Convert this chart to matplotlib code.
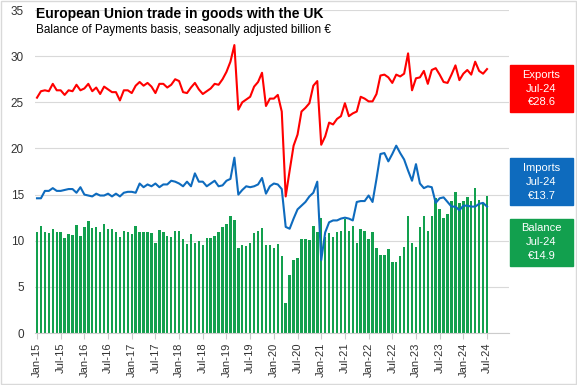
import numpy as np
import pandas as pd
import matplotlib.pyplot as plt
from matplotlib.patches import Rectangle

# monthly, Jan-15 .. Jul-24 (billion EUR)
exports = [25.5, 26.2, 26.3, 26.2, 27.0, 26.3, 26.3, 25.8, 26.3, 26.2, 26.9, 26.3,
           26.5, 27.0, 26.2, 26.6, 25.9, 26.7, 26.4, 26.1, 26.1, 25.2, 26.3, 26.3,
           26.0, 26.8, 27.2, 26.8, 27.1, 26.7, 26.0, 27.0, 27.0, 26.6, 26.9, 27.5,
           27.3, 26.1, 26.0, 26.6, 27.1, 26.4, 25.9, 26.2, 26.5, 27.0, 26.9, 27.5,
           28.3, 29.4, 31.2, 24.2, 25.0, 25.3, 25.6, 26.7, 27.2, 28.2, 24.6, 25.4,
           25.4, 25.8, 24.0, 14.8, 17.6, 20.3, 21.5, 24.0, 24.4, 24.9, 26.8, 27.3,
           20.4, 21.3, 22.8, 22.6, 23.2, 23.5, 24.9, 23.5, 23.8, 24.0, 25.6, 25.4,
           25.1, 25.1, 25.9, 27.9, 28.0, 27.7, 27.1, 28.0, 27.8, 28.1, 30.3, 26.3,
           27.6, 27.7, 28.4, 27.0, 28.5, 28.7, 28.0, 27.2, 27.1, 28.0, 29.0, 27.4,
           28.1, 28.5, 28.0, 29.4, 28.4, 28.1, 28.6]
imports = [14.6, 14.6, 15.4, 15.4, 15.7, 15.4, 15.4, 15.5, 15.6, 15.6, 15.2, 15.8,
           15.0, 14.9, 14.8, 15.1, 14.9, 14.9, 15.1, 14.8, 15.1, 14.8, 15.2, 15.3,
           15.3, 15.2, 16.2, 15.8, 16.1, 15.9, 16.2, 15.8, 16.1, 16.1, 16.5, 16.4,
           16.2, 15.9, 16.4, 15.9, 17.3, 16.4, 16.4, 15.9, 16.2, 16.5, 15.9, 16.0,
           16.5, 16.7, 19.0, 15.0, 15.5, 15.9, 15.8, 15.9, 16.1, 16.8, 15.1, 15.9,
           16.2, 16.1, 15.6, 11.5, 11.3, 12.4, 13.4, 13.8, 14.2, 14.8, 15.2, 16.4,
           7.9, 10.9, 12.0, 12.2, 12.2, 12.4, 12.5, 12.4, 12.2, 14.2, 14.3, 14.3,
           14.9, 14.2, 16.7, 19.4, 19.5, 18.6, 19.4, 20.3, 19.5, 18.8, 17.6, 16.5,
           18.3, 16.2, 15.7, 15.9, 15.8, 14.1, 14.6, 14.7, 14.2, 13.7, 13.7, 13.3,
           13.8, 13.8, 13.7, 13.7, 14.0, 14.1, 13.7]
balance = [e - m for e, m in zip(exports, imports)]

months = pd.date_range("2015-01-01", periods=len(exports), freq="MS")
tick_pos = list(range(0, len(months), 6))
tick_labels = [months[i].strftime("%b-%y") for i in tick_pos]

RED = "#FF0000"
BLUE = "#0E6BBE"
GREEN = "#12A04E"

plt.rcParams['font.family'] = ['Liberation Sans', 'DejaVu Sans']

fig = plt.figure(figsize=(5.77, 3.85), dpi=100)
ax = fig.add_axes([0.0607, 0.135, 0.821, 0.839])

x = np.arange(len(months))
ax.bar(x, balance, width=0.62, color=GREEN, zorder=2)
ax.plot(x, exports, color=RED, lw=1.5, zorder=3)
ax.plot(x, imports, color=BLUE, lw=1.5, zorder=3)

ax.set_xlim(-0.5, 119.5)
ax.set_ylim(0, 35)
ax.set_yticks(range(0, 36, 5))
ax.yaxis.grid(True, color="#D9D9D9", lw=0.8, zorder=0)
ax.tick_params(axis='y', length=0, labelsize=8.5, colors="#333333", pad=8)
ax.set_xticks(tick_pos)
ax.set_xticklabels(tick_labels, rotation=90, fontsize=8, color="#333333")
ax.tick_params(axis='x', length=4, color="#CCCCCC", pad=3)
for s in ['top', 'right', 'left']:
    ax.spines[s].set_visible(False)
ax.spines['bottom'].set_color("#CCCCCC")

fig.text(0.062, 0.964, "European Union trade in goods with the UK",
         fontsize=10, fontweight='bold', va='center')
fig.text(0.062, 0.922, "Balance of Payments basis, seasonally adjusted billion \u20ac",
         fontsize=8.5, va='center')

# end-value boxes on the right
boxes = [("Exports", exports[-1], RED, 88.5),
         ("Imports", imports[-1], BLUE, 182),
         ("Balance", balance[-1], GREEN, 242)]
bw, bh = 63 / 577, 47 / 385
for name, val, col, yc in boxes:
    cy = 1 - yc / 385
    fig.patches.append(Rectangle((510 / 577, cy - bh / 2), bw, bh,
                                 transform=fig.transFigure, color=col))
    fig.text(510 / 577 + bw / 2, cy, f"{name}\n{months[-1].strftime('%b-%y')}\n\u20ac{val:.1f}",
             color="white", fontsize=8, ha='center', va='center', linespacing=1.45)

fig.patches.append(Rectangle((0.001, 0.002), 0.997, 0.995, transform=fig.transFigure,
                             fill=False, edgecolor="#D9D9D9", lw=1))

fig.savefig("out.png", dpi=100)
